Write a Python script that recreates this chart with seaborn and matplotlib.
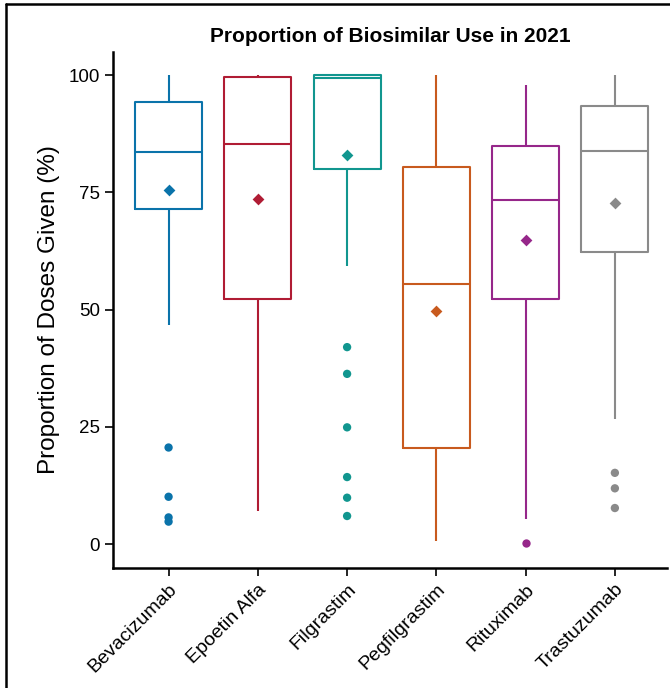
import numpy as np
import pandas as pd
import matplotlib
matplotlib.use("Agg")
import matplotlib.pyplot as plt
import seaborn as sns
from matplotlib.lines import Line2D

# Five-number summaries (lower whisker, Q1, median, Q3, upper whisker)
drugs = ["Bevacizumab", "Epoetin Alfa", "Filgrastim", "Pegfilgrastim", "Rituximab", "Trastuzumab"]
whisker_low = [46.7, 7.1, 59.4, 0.6, 5.3, 26.6]
q1 = [71.4, 52.2, 79.9, 20.6, 52.2, 62.3]
median = [83.5, 85.4, 99.3, 55.5, 73.3, 83.8]
q3 = [94.2, 99.6, 100.0, 80.4, 84.9, 93.4]
whisker_high = [100.0, 100.0, 100.0, 100.0, 97.9, 100.0]
means = [75.5, 73.6, 83.0, 49.7, 64.8, 72.8]

outlier_drug = (["Bevacizumab"] * 4 + ["Filgrastim"] * 6 + ["Rituximab"] + ["Trastuzumab"] * 3)
outlier_val = [20.6, 10.1, 5.7, 4.8,
               42.0, 36.3, 24.9, 14.3, 9.9, 6.0,
               0.35,
               15.2, 11.9, 7.7]

colors = ["#0a73aa", "#b01c34", "#11968f", "#c85a1e", "#96278a", "#8a8a8a"]
palette = dict(zip(drugs, colors))

# long table of the summary points (linear percentiles of 5 points give back q1/median/q3)
rows = []
for i, d in enumerate(drugs):
    for v in (whisker_low[i], q1[i], median[i], q3[i], whisker_high[i]):
        rows.append({"drug": d, "value": v})
box_df = pd.DataFrame(rows)
mean_df = pd.DataFrame({"drug": drugs, "value": means})
out_df = pd.DataFrame({"drug": outlier_drug, "value": outlier_val})

sns.set_style("ticks")
plt.rcParams["font.family"] = ["Liberation Sans", "DejaVu Sans"]
plt.rcParams["text.color"] = "black"
plt.rcParams["axes.labelcolor"] = "black"
plt.rcParams["xtick.color"] = "black"
plt.rcParams["ytick.color"] = "black"

fig, ax = plt.subplots(figsize=(6.7, 6.88), dpi=100)
fig.subplots_adjust(left=0.169, right=0.995, top=0.925, bottom=0.175)

sns.boxplot(data=box_df, x="drug", y="value", hue="drug", order=drugs, hue_order=drugs,
            palette=palette, fill=False, whis=(0, 100), width=0.75, linewidth=1.5,
            showcaps=False, showfliers=False, legend=False, ax=ax)
sns.stripplot(data=out_df, x="drug", y="value", hue="drug", order=drugs, hue_order=drugs,
              palette=palette, jitter=False, size=6, linewidth=0, legend=False, ax=ax)
sns.stripplot(data=mean_df, x="drug", y="value", hue="drug", order=drugs, hue_order=drugs,
              palette=palette, jitter=False, marker="D", size=6, linewidth=0, legend=False, ax=ax)

ax.set_xlim(-0.62, 5.58)
ax.set_ylim(-5, 105)
ax.set_yticks([0, 25, 50, 75, 100])
ax.set_xlabel("")
ax.set_ylabel("Proportion of Doses Given (%)", fontsize=17.5, color="black", labelpad=6)
ax.set_title("Proportion of Biosimilar Use in 2021", fontsize=15, fontweight="bold",
             color="black", pad=7)
ax.tick_params(axis="y", labelsize=13.5, width=1.2, length=6, color="black", labelcolor="black")
ax.tick_params(axis="x", labelsize=14, width=1.2, length=6, color="black", labelcolor="black")
plt.setp(ax.get_xticklabels(), rotation=45, ha="right", rotation_mode="anchor")
for s in ("left", "bottom"):
    ax.spines[s].set_linewidth(1.8)
    ax.spines[s].set_color("black")
sns.despine(ax=ax)

# frame lines at the top and left edge of the image
fig.add_artist(Line2D([0.009, 0.009], [0, 0.994], transform=fig.transFigure, color="black", lw=1.8))
fig.add_artist(Line2D([0.009, 1.0], [0.994, 0.994], transform=fig.transFigure, color="black", lw=1.8))

fig.savefig("out.png", dpi=100)
